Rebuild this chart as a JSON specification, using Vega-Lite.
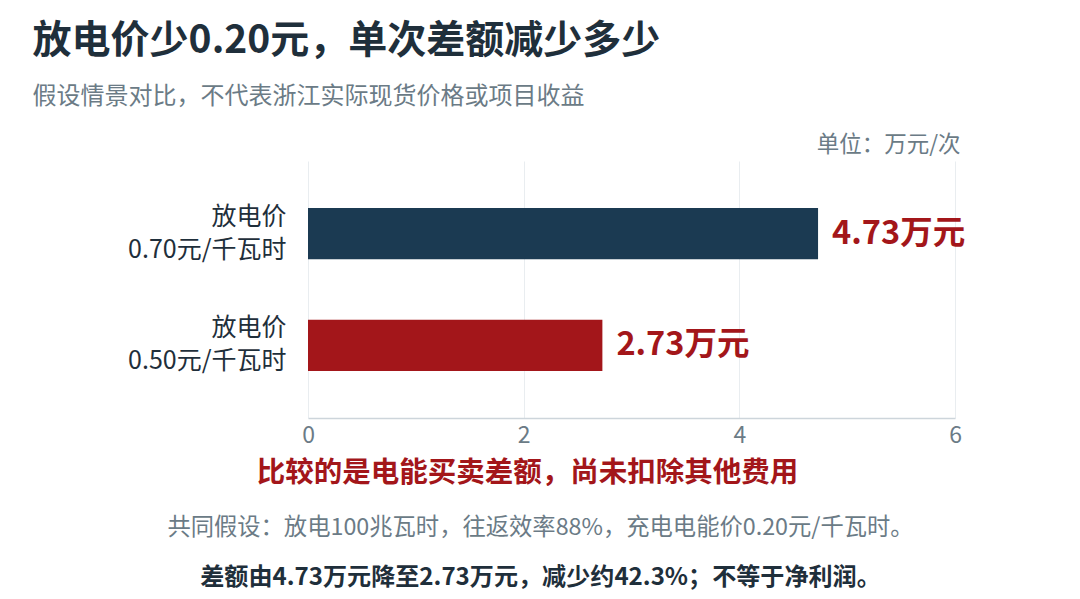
{
  "$schema": "https://vega.github.io/schema/vega-lite/v6.json",
  "background": "white",
  "padding": {"left": 32, "top": 22, "right": 10, "bottom": 5},
  "config": {
    "font": "Noto Sans CJK SC",
    "view": {"stroke": null},
    "concat": {"spacing": 0}
  },
  "title": {
    "text": "放电价少0.20元，单次差额减少多少",
    "subtitle": "假设情景对比，不代表浙江实际现货价格或项目收益",
    "anchor": "start",
    "frame": "bounds",
    "dx": -95,
    "fontSize": 39,
    "fontWeight": "bold",
    "color": "#1f2f3b",
    "subtitleFont": "Noto Sans CJK SC",
    "subtitleFontSize": 24,
    "subtitleColor": "#6b7b86",
    "subtitlePadding": 24,
    "offset": 24
  },
  "vconcat": [
    {
      "width": 647,
      "height": 257,
      "title": {
        "text": "共同假设：放电100兆瓦时，往返效率88%，充电电能价0.20元/千瓦时。",
        "subtitle": "差额由4.73万元降至2.73万元，减少约42.3%；不等于净利润。",
        "orient": "bottom",
        "anchor": "middle",
        "frame": "group",
        "dx": -91,
        "fontSize": 23.3,
        "fontWeight": "normal",
        "color": "#6b7b86",
        "subtitleFont": "Noto Sans CJK SC",
        "subtitleFontSize": 24.1,
        "subtitleFontWeight": "bold",
        "subtitleColor": "#1f2f3b",
        "subtitlePadding": 26,
        "offset": 30
      },
      "data": {
        "values": [
          {"scenario": "放电价|0.70元/千瓦时", "value": 4.73, "label": "4.73万元"},
          {"scenario": "放电价|0.50元/千瓦时", "value": 2.73, "label": "2.73万元"}
        ]
      },
      "encoding": {
        "y": {
          "field": "scenario",
          "type": "nominal",
          "sort": null,
          "scale": {"paddingInner": 0.54, "paddingOuter": 0.42},
          "axis": {
            "title": "单位：万元/次",
            "titleAngle": 0,
            "titleAlign": "right",
            "titleBaseline": "middle",
            "titleX": 652,
            "titleY": -17,
            "titleFontSize": 22.5,
            "titleFontWeight": "normal",
            "titleColor": "#6b7b86",
            "domain": false,
            "ticks": false,
            "labelExpr": "split(datum.label, '|')",
            "labelFontSize": 25,
            "labelColor": "#1f2f3b",
            "labelLineHeight": 33,
            "labelOffset": -17,
            "labelPadding": 22
          }
        },
        "x": {
          "field": "value",
          "type": "quantitative",
          "scale": {"domain": [0, 6], "nice": false},
          "axis": {
            "values": [0, 2, 4, 6],
            "title": "比较的是电能买卖差额，尚未扣除其他费用",
            "titleX": 219,
            "titleY": 54,
            "titleAlign": "center",
            "titleBaseline": "middle",
            "titleFontSize": 28.5,
            "titleFontWeight": "bold",
            "titleColor": "#a3161a",
            "labelFontSize": 23,
            "labelColor": "#6b7b86",
            "labelPadding": 6,
            "labelFlush": false,
            "ticks": false,
            "domainColor": "#cdd5db",
            "domainWidth": 1.5,
            "gridColor": "#e9edf0",
            "grid": true
          }
        }
      },
      "layer": [
        {
          "mark": {"type": "bar"},
          "encoding": {
            "color": {
              "field": "scenario",
              "type": "nominal",
              "sort": null,
              "scale": {"range": ["#1b3a52", "#a3161a"]},
              "legend": null
            }
          }
        },
        {
          "mark": {
            "type": "text",
            "align": "left",
            "baseline": "middle",
            "dx": 14,
            "fontSize": 32.5,
            "fontWeight": "bold",
            "color": "#a3161a"
          },
          "encoding": {"text": {"field": "label"}}
        }
      ]
    }
  ]
}
